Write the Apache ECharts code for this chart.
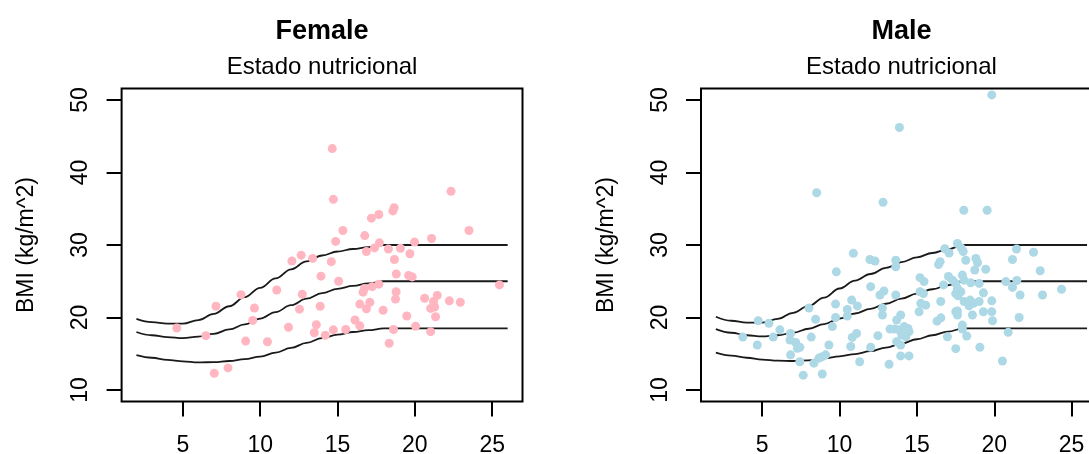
<!DOCTYPE html>
<html>
<head>
<meta charset="utf-8">
<script src="https://cdn.jsdelivr.net/npm/echarts@6/dist/echarts.min.js"></script>
<style>
  html, body { margin: 0; padding: 0; background: #ffffff; }
  #chart { width: 1089px; height: 454px; }
</style>
</head>
<body>
<div id="chart"></div>
<script>
// Panel titles
const panelTitles = ['Female', 'Male'];
const subTitle = 'Estado nutricional';
const yAxisName = 'BMI (kg/m^2)';

// Tick labels
const xTicks = [5, 10, 15, 20, 25];
const yTicks = [10, 20, 30, 40, 50];

// Age grid of the BMI cut-off curves (adult values hold from 18 to 26)
const cutAges = [2, 3, 4, 5, 6, 7, 8, 9, 10, 11, 12, 13, 14, 15, 16, 17, 18];
const adultEndAge = 26;

// Female cut-off curves (obesity 30, overweight 25, thinness 18.5)
const female30 = [19.8, 19.35, 19.15, 19.15, 19.65, 20.5, 21.55, 22.8, 24.1, 25.4, 26.65, 27.75, 28.55, 29.1, 29.45, 29.7, 30];
const female25 = [18.0, 17.55, 17.3, 17.15, 17.35, 17.75, 18.35, 19.05, 19.85, 20.75, 21.7, 22.6, 23.35, 23.95, 24.35, 24.7, 25];
const female185 = [14.8, 14.45, 14.15, 13.95, 13.8, 13.85, 14.0, 14.25, 14.6, 15.15, 15.8, 16.5, 17.15, 17.65, 18.0, 18.25, 18.5];

// Male cut-off curves
const male30 = [20.1, 19.55, 19.3, 19.3, 19.8, 20.65, 21.6, 22.75, 24.0, 25.1, 26.0, 26.85, 27.65, 28.3, 28.9, 29.4, 30];
const male25 = [18.4, 17.9, 17.55, 17.4, 17.55, 17.9, 18.45, 19.1, 19.85, 20.55, 21.2, 21.9, 22.6, 23.3, 23.9, 24.45, 25];
const male185 = [15.15, 14.75, 14.45, 14.2, 14.05, 14.0, 14.1, 14.35, 14.65, 14.95, 15.35, 15.85, 16.4, 17.0, 17.55, 18.05, 18.5];

// Female observations: age (years) and BMI
const femaleAge = [14.66, 14.73, 22.34, 23.5, 15.35, 14.88, 16.76, 17.19, 17.67, 18.58,
  18.66, 21.08, 19.98, 17.71, 17.39, 16.87, 18.29, 19.07, 19.68, 18.68,
  14.6, 13.39, 12.65, 12.05, 13.93, 15.07, 18.8, 19.6, 19.83, 17.67,
  17.24, 16.74, 16.65, 25.47, 18.79, 18.75, 20.63, 21.45, 21.21, 22.23,
  22.94, 21.02, 21.28, 21.34, 19.48, 17.95, 17.09, 16.87, 16.44, 16.13,
  16.44, 20.05, 21.02, 18.62, 18.34, 15.53, 14.73, 14.21, 13.63, 13.5,
  13.88, 12.72, 12.54, 11.07, 11.83, 10.47, 9.06, 9.52, 9.63, 8.76,
  7.14, 6.49, 4.61, 7.03, 7.92];
const femaleBmi = [43.3, 36.3, 37.4, 32.0, 32.0, 30.5, 31.3, 33.7, 34.2, 34.7,
  35.15, 30.9, 30.4, 30.3, 29.6, 29.1, 29.45, 29.55, 28.8, 28.0,
  27.7, 28.15, 28.6, 27.8, 25.7, 25.0, 26.0, 25.8, 25.6, 24.6,
  24.25, 24.0, 23.5, 24.5, 23.55, 22.55, 22.65, 23.05, 22.2, 22.3,
  22.1, 21.25, 21.45, 20.1, 20.2, 21.0, 22.1, 21.2, 21.85, 19.65,
  18.85, 18.8, 18.05, 18.35, 16.45, 18.35, 18.3, 17.55, 19.0, 17.9,
  21.55, 23.2, 21.15, 23.8, 18.65, 16.65, 16.75, 19.6, 21.3, 23.15,
  21.55, 17.5, 18.55, 12.3, 13.05];

// Male observations: age (years) and BMI
const maleAge = [19.84, 13.87, 8.52, 12.81, 18.03, 19.54, 17.62, 17.86, 17.99, 16.8,
  17.08, 16.5, 16.4, 21.44, 22.54, 21.18, 22.97, 10.89, 11.96, 12.29,
  13.63, 13.63, 9.79, 18.81, 18.92, 18.16, 18.74, 19.45, 15.2, 15.46,
  17.04, 17.3, 17.51, 16.72, 17.94, 18.05, 18.48, 19.02, 20.75, 21.46,
  21.18, 12.01, 24.35, 12.87, 12.61, 13.63, 15.2, 15.42, 17.62, 17.84,
  17.51, 17.66, 19.3, 21.67, 23.12, 15.25, 15.57, 16.54, 18.05, 18.44,
  18.66, 19.02, 18.37, 19.84, 9.74, 10.78, 11.15, 10.5, 8.02, 12.77,
  17.51, 10.5, 9.74, 12.77, 13.95, 13.69, 17.62, 17.62, 18.59, 19.3,
  19.84, 19.89, 21.61, 8.45, 16.3, 16.55, 15.14, 4.74, 5.43, 6.14,
  3.74, 5.71, 4.68, 6.83, 6.79, 7.16, 7.43, 7.27, 6.83, 8.17,
  9.53, 9.31, 13.26, 13.56, 13.84, 14.17, 14.42, 14.49, 14.02, 14.28,
  13.69, 13.95, 11.1, 10.82, 12.48, 16.97, 17.94, 17.94, 18.22, 20.9,
  12.01, 10.72, 9.1, 8.88, 11.3, 13.95, 14.49, 13.2, 8.88, 7.43,
  7.65, 8.34, 8.67, 17.51, 19.07, 20.53];
const maleBmi = [50.7, 46.2, 37.2, 35.9, 34.8, 34.8, 30.2, 29.6, 29.1, 29.5,
  28.9, 27.7, 27.3, 29.45, 29.0, 28.0, 26.45, 28.85, 28.0, 27.8,
  27.9, 27.0, 26.3, 28.15, 27.55, 27.9, 26.55, 26.65, 25.5, 24.95,
  25.65, 25.15, 24.7, 24.5, 25.85, 25.15, 24.8, 24.7, 24.95, 25.1,
  24.15, 24.25, 23.9, 23.65, 23.1, 23.1, 23.55, 23.3, 24.0, 23.55,
  23.3, 23.0, 23.4, 23.1, 23.1, 21.95, 21.7, 22.2, 22.2, 22.4,
  21.95, 22.2, 21.6, 22.3, 21.85, 22.4, 21.6, 21.1, 21.3, 21.3,
  20.8, 20.2, 20.0, 20.35, 20.35, 19.65, 20.9, 20.35, 20.35, 20.8,
  20.8, 19.55, 20.0, 19.75, 19.5, 19.95, 20.8, 19.55, 19.2, 18.3,
  17.3, 17.3, 16.2, 17.8, 16.9, 16.55, 15.9, 15.75, 14.85, 17.3,
  18.75, 16.2, 18.4, 18.4, 18.3, 18.75, 18.5, 18.05, 17.6, 17.35,
  16.65, 16.2, 17.8, 17.25, 17.5, 17.35, 18.95, 18.4, 17.45, 17.95,
  15.9, 16.0, 14.85, 14.6, 13.9, 14.7, 14.7, 13.55, 12.2, 13.9,
  12.05, 13.7, 14.4, 15.7, 15.9, 14.0];

const FONT = "'Liberation Sans', Arial, Helvetica, sans-serif";

const panels = [
  { title: panelTitles[0], left: 121.6, color: '#FFB6C1',
    age: femaleAge, bmi: femaleBmi, curves: [female30, female25, female185] },
  { title: panelTitles[1], left: 701, color: '#ADD8E6',
    age: maleAge, bmi: maleBmi, curves: [male30, male25, male185] }
];

const PLOT_W = 400.9, PLOT_TOP = 88.4, PLOT_H = 313.2;

const option = {
  animation: false,
  backgroundColor: '#ffffff',
  title: [],
  grid: [],
  xAxis: [],
  yAxis: [],
  series: []
};

panels.forEach((p, i) => {
  const cx = p.left + PLOT_W / 2;
  option.title.push({
    text: p.title, left: cx, top: 18, padding: 0, textAlign: 'center',
    textStyle: { fontFamily: FONT, fontSize: 27, fontWeight: 'bold', color: '#000' }
  });
  option.title.push({
    text: subTitle, left: cx, top: 55, padding: 0, textAlign: 'center',
    textStyle: { fontFamily: FONT, fontSize: 24, fontWeight: 'normal', color: '#000' }
  });
  option.grid.push({
    left: p.left, top: PLOT_TOP, width: PLOT_W, height: PLOT_H,
    show: true, borderColor: '#000', borderWidth: 2, backgroundColor: 'transparent',
    containLabel: false, outerBoundsMode: 'none'
  });
  option.xAxis.push({
    type: 'value', gridIndex: i, min: 1.04, max: 26.96,
    axisLine: { show: false },
    splitLine: { show: false },
    axisTick: { show: true, customValues: xTicks, length: 15, inside: false,
      lineStyle: { color: '#000', width: 2 } },
    axisLabel: { show: true, customValues: xTicks, margin: 33,
      fontFamily: FONT, fontSize: 23, color: '#000' }
  });
  option.yAxis.push({
    type: 'value', gridIndex: i, min: 8.4, max: 51.6,
    name: yAxisName, nameLocation: 'middle', nameRotate: 90, nameGap: 83,
    nameTextStyle: { fontFamily: FONT, fontSize: 23, color: '#000' },
    axisLine: { show: false },
    splitLine: { show: false },
    axisTick: { show: true, customValues: yTicks, length: 15, inside: false,
      lineStyle: { color: '#000', width: 2 } },
    axisLabel: { show: true, customValues: yTicks, rotate: 90, margin: 29,
      fontFamily: FONT, fontSize: 23, color: '#000' }
  });
  // cut-off curves: childhood values then flat adult value up to age 26
  p.curves.forEach(vals => {
    const data = cutAges.map((a, k) => [a, vals[k]]);
    data.push([adultEndAge, vals[vals.length - 1]]);
    option.series.push({
      type: 'line', xAxisIndex: i, yAxisIndex: i, data: data,
      smooth: 0.4, smoothMonotone: 'x', showSymbol: false, symbol: 'none',
      lineStyle: { color: '#1a1a1a', width: 1.8 }, z: 2, silent: true
    });
  });
  option.series.push({
    type: 'scatter', xAxisIndex: i, yAxisIndex: i,
    data: p.age.map((a, k) => [a, p.bmi[k]]),
    symbol: 'circle', symbolSize: 9,
    itemStyle: { color: p.color, opacity: 1 }, z: 3, silent: true
  });
});

const chart = echarts.init(document.getElementById('chart'), null, { renderer: 'canvas' });
chart.setOption(option);
</script>
</body>
</html>
